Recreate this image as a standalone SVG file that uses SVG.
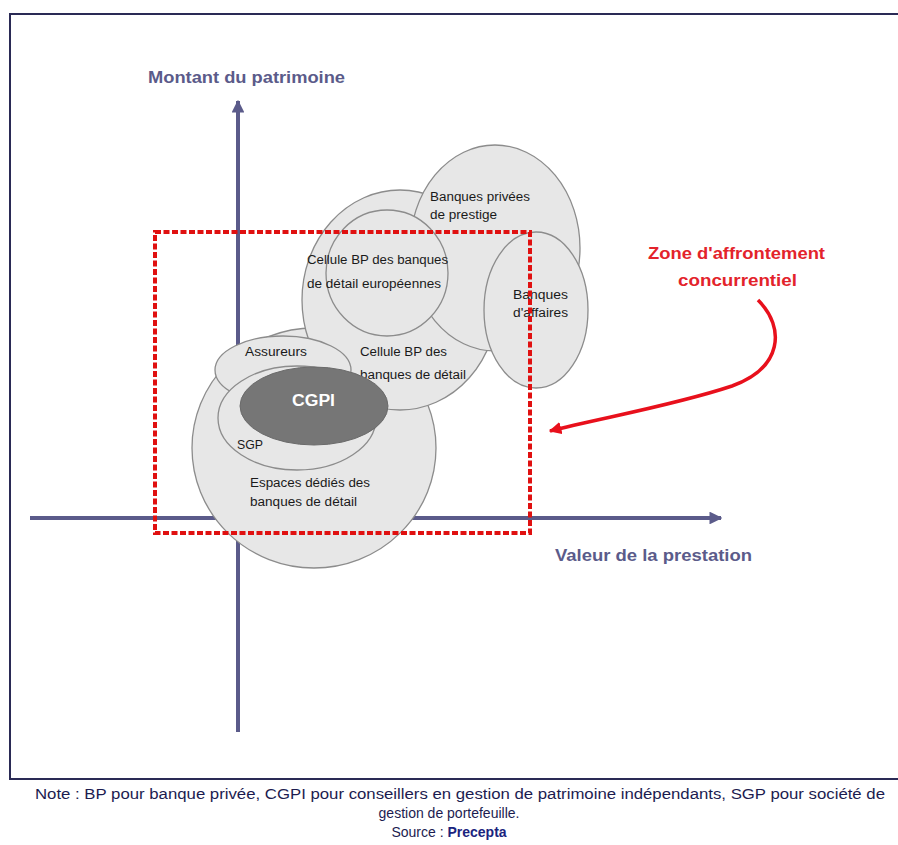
<svg xmlns="http://www.w3.org/2000/svg" width="898" height="845" viewBox="0 0 898 845">
<style>
.ell{fill:#e7e7e7;stroke:#8c8c8c;stroke-width:1.3}
.lbl{font-family:"Liberation Sans",Arial,sans-serif;font-size:12px;fill:#1a1a1a}
.ax{font-family:"Liberation Sans",Arial,sans-serif;font-size:16px;font-weight:bold;fill:#5b5b8a}
.zone{font-family:"Liberation Sans",Arial,sans-serif;font-size:16px;font-weight:bold;fill:#e3232b}
.note{font-family:"Liberation Sans",Arial,sans-serif;font-size:14px;fill:#1c1c50}
</style>
<defs>
<marker id="axh" viewBox="0 0 10 10" refX="9" refY="5" markerWidth="3.2" markerHeight="3.2" orient="auto" markerUnits="strokeWidth">
<path d="M0,0 L10,5 L0,10 z" fill="#5b5b8a"/>
</marker>
<marker id="redh" viewBox="0 0 10 10" refX="9" refY="5" markerWidth="3.6" markerHeight="3.6" orient="auto" markerUnits="strokeWidth">
<path d="M0,0 L10,5 L0,10 z" fill="#e8101c"/>
</marker>
</defs>
<rect x="0" y="0" width="898" height="845" fill="#ffffff"/>
<rect x="10" y="14" width="900" height="765" fill="#ffffff" stroke="#2a2a55" stroke-width="2"/>

<g id="connectors">
<line x1="238" y1="732" x2="238" y2="101" stroke="#5b5b8a" stroke-width="4" marker-end="url(#axh)"/>
<line x1="30" y1="518" x2="721" y2="518" stroke="#5b5b8a" stroke-width="4" marker-end="url(#axh)"/>
</g>

<g id="axis-labels">
<text class="ax" x="148" y="83" textLength="197" lengthAdjust="spacingAndGlyphs">Montant du patrimoine</text>
<text class="ax" x="555" y="561" textLength="197" lengthAdjust="spacingAndGlyphs">Valeur de la prestation</text>
</g>

<g id="espaces">
<ellipse class="ell" cx="314" cy="448" rx="122" ry="120"/>
</g>
<g id="cellule-detail">
<ellipse class="ell" cx="400" cy="300" rx="98" ry="110"/>
</g>
<g id="banques-prestige">
<ellipse class="ell" cx="495" cy="248" rx="85" ry="103"/>
<text class="lbl" x="430" y="201" textLength="100" lengthAdjust="spacingAndGlyphs">Banques privées</text>
<text class="lbl" x="430" y="219" textLength="67" lengthAdjust="spacingAndGlyphs">de prestige</text>
</g>
<g id="cellule-europeennes">
<ellipse class="ell" cx="387" cy="273" rx="61" ry="63"/>
<text class="lbl" x="307" y="264" textLength="141" lengthAdjust="spacingAndGlyphs">Cellule BP des banques</text>
<text class="lbl" x="307" y="288" textLength="134" lengthAdjust="spacingAndGlyphs">de détail européennes</text>
</g>
<g id="banques-affaires">
<ellipse class="ell" cx="536" cy="310" rx="52" ry="78"/>
<text class="lbl" x="513" y="299" textLength="55" lengthAdjust="spacingAndGlyphs">Banques</text>
<text class="lbl" x="513" y="317" textLength="55" lengthAdjust="spacingAndGlyphs">d'affaires</text>
</g>
<g id="cellule-detail-label">
<text class="lbl" x="360" y="356" textLength="87" lengthAdjust="spacingAndGlyphs">Cellule BP des</text>
<text class="lbl" x="360" y="379" textLength="106" lengthAdjust="spacingAndGlyphs">banques de détail</text>
</g>
<g id="assureurs">
<ellipse class="ell" cx="283" cy="370" rx="68" ry="34"/>
<text class="lbl" x="245" y="356" textLength="62" lengthAdjust="spacingAndGlyphs">Assureurs</text>
</g>
<g id="sgp">
<ellipse class="ell" cx="297" cy="418" rx="79" ry="52"/>
<text class="lbl" x="237" y="449" textLength="26" lengthAdjust="spacingAndGlyphs">SGP</text>
</g>
<g id="cgpi">
<ellipse cx="314" cy="406" rx="74" ry="39" fill="#767676" stroke="#6a6a6a" stroke-width="1"/>
<text x="292" y="406" font-family="'Liberation Sans',Arial,sans-serif" font-size="16" font-weight="bold" fill="#ffffff" textLength="43" lengthAdjust="spacingAndGlyphs">CGPI</text>
</g>
<g id="espaces-label">
<text class="lbl" x="250" y="487" textLength="120" lengthAdjust="spacingAndGlyphs">Espaces dédiés des</text>
<text class="lbl" x="250" y="506" textLength="107" lengthAdjust="spacingAndGlyphs">banques de détail</text>
</g>

<g id="zone">
<rect x="155" y="232" width="375" height="301" fill="none" stroke="#e01010" stroke-width="4" stroke-dasharray="6 2.5"/>
<text class="zone" x="648" y="259" textLength="177" lengthAdjust="spacingAndGlyphs">Zone d'affrontement</text>
<text class="zone" x="678" y="286" textLength="119" lengthAdjust="spacingAndGlyphs">concurrentiel</text>
</g>
<g id="zone-arrow">
<path d="M758,300 C786,328 782,368 732,386 C672,406 600,418 550,431" fill="none" stroke="#e8101c" stroke-width="3.5" marker-end="url(#redh)"/>
</g>

<g id="footnote">
<text class="note" x="35" y="799" textLength="850" lengthAdjust="spacingAndGlyphs">Note : BP pour banque privée, CGPI pour conseillers en gestion de patrimoine indépendants, SGP pour société de</text>
<text class="note" x="449" y="818" text-anchor="middle">gestion de portefeuille.</text>
<text class="note" x="449" y="837" text-anchor="middle">Source : <tspan font-weight="bold" fill="#1a237e">Precepta</tspan></text>
</g>
</svg>
